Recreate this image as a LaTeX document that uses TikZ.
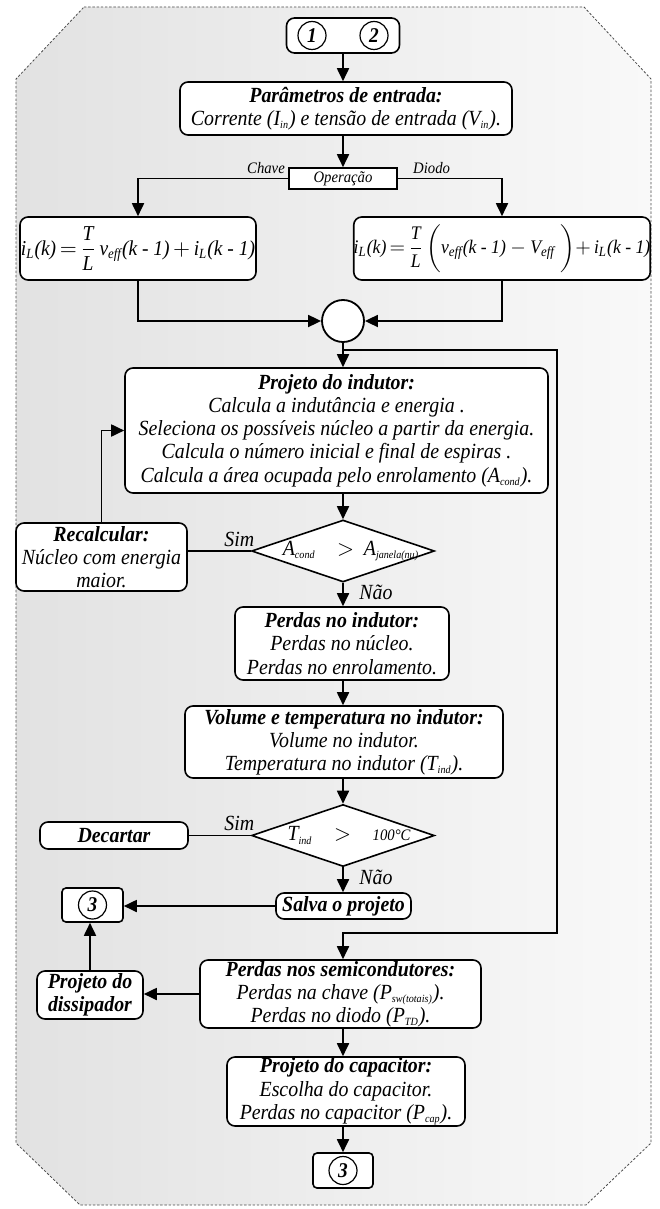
\documentclass[tikz,border=0pt]{standalone}
\usepackage{fontspec}
\setmainfont{Liberation Serif}[FakeStretch=0.92]
\usetikzlibrary{shapes.geometric, arrows.meta, positioning}
\definecolor{bgleft}{HTML}{E2E2E2}
\definecolor{bgright}{HTML}{F9F9F9}
\newcommand{\lsub}[1]{\textsubscript{\fontsize{5.5}{6}\selectfont #1}}
\newcommand{\fsub}[1]{\textsubscript{\fontsize{7}{8}\selectfont #1}}
\tikzset{
  blk/.style={draw, line width=0.8pt, rounded corners=4pt, fill=white, align=center,
    inner sep=0pt, font=\fontsize{10.8}{11.6}\selectfont\itshape},
  bblk/.style={blk, font=\fontsize{10.8}{11.6}\selectfont\bfseries\itshape},
  opbox/.style={draw, line width=0.8pt, fill=white, inner sep=0pt,
    minimum width=54pt, minimum height=10.5pt, font=\fontsize{8}{9}\selectfont\itshape},
  cond/.style={draw, diamond, line width=0.8pt, fill=white, inner sep=0pt,
    minimum width=91.5pt, minimum height=31pt},
  numc/.style={circle, draw, line width=0.6pt, inner sep=0pt, minimum size=14pt,
    font=\fontsize{10.5}{12}\selectfont\bfseries\itshape},
  lbl/.style={inner sep=0pt, font=\fontsize{10.8}{12}\selectfont\itshape},
  sml/.style={inner sep=0pt, font=\fontsize{8}{9}\selectfont\itshape},
  fml/.style={font=\fontsize{10.6}{12}\selectfont\itshape},
  border/.style={line width=0.4pt, black!70, dash pattern=on 1.2pt off 0.9pt},
  line/.style={line width=0.9pt},
  arr/.style={line width=0.9pt, -{Triangle[length=6.5pt,width=6pt]}},
}
\begin{document}
\begin{tikzpicture}[x=0.5pt, y=-0.5pt]
  \useasboundingbox (0,0) rectangle (659,1209);
  % Background frame
  \shadedraw[left color=bgleft, right color=bgright, border]
    (84,7) -- (584,7) -- (651,79) -- (651,1143) -- (586,1205)
    -- (80,1205) -- (16,1143) -- (16,79) -- cycle;

  % Start: connectors 1 and 2
  \node[blk, minimum width=56.5pt, minimum height=17.5pt] (start) at (343,35.5) {};
  \node[numc] (c1) at (312,35.5) {1};
  \node[numc] (c2) at (374,35.5) {2};

  % Input parameters and operation mode
  \node[blk, minimum width=166pt, minimum height=26.5pt] (par) at (346,108.5)
    {{\bfseries Parâmetros de entrada:}\\Corrente (I\lsub{in}) e tensão de entrada (V\lsub{in}).};
  \node[opbox] (op) at (343,178.5) {Operação};
  \node[sml, anchor=south east] (chave) at ([xshift=-1.5pt,yshift=2pt]op.west) {Chave};
  \node[sml, anchor=south west] (diodo) at ([xshift=7.5pt,yshift=2pt]op.east) {Diodo};

  % Current in the inductor
  \node[blk, fml, minimum width=118pt, minimum height=31.5pt] (f1) at (138,248.5)
    {i\fsub{L}(k)\,$=$\,$\displaystyle\frac{\mbox{T}}{\mbox{L}}$\,v\fsub{eff}(k - 1)\,$+$\,i\fsub{L}(k - 1)};
  \node[blk, fml, font=\fontsize{9.6}{12}\selectfont\itshape, minimum width=147pt, minimum height=31.5pt] (f2) at (502,248.5)
    {i\fsub{L}(k)\,$=$\,$\displaystyle\frac{\mbox{T}}{\mbox{L}}\left(\vphantom{\frac{\mbox{T}}{\mbox{L}}}\mbox{v\fsub{eff}(k - 1)}-\mbox{V\fsub{eff}}\;\right)$$+$\,i\fsub{L}(k - 1)};
  \node[circle, draw, line width=0.9pt, fill=white, minimum size=21pt, inner sep=0pt] (jn) at (343,321) {};

  % Inductor design
  \node[blk, minimum width=211.5pt, minimum height=62.5pt] (proj) at (336.5,430.5)
    {{\bfseries Projeto do indutor:}\\Calcula a indutância e energia .\\Seleciona os possíveis núcleo a partir da energia.\\Calcula o número inicial e final de espiras .\\Calcula a área ocupada pelo enrolamento (A\lsub{cond}).};
  \node[cond] (d1) at (343,551) {};
  \node[lbl] (d1txt) at ([xshift=4pt]d1.center) {A\lsub{cond}\quad$>$\;\,A\lsub{janela(nu)}};
  \node[blk, minimum width=85.5pt, minimum height=34pt] (rec) at (101.5,557)
    {{\bfseries Recalcular:}\\Núcleo com energia\\maior.};
  \node[lbl, anchor=south east] (sim1) at ([xshift=2pt,yshift=2pt]d1.west) {Sim};
  \node[lbl, anchor=west] (nao1) at ([xshift=8pt,yshift=-5pt]d1.south) {Não};

  \node[blk, minimum width=107pt, minimum height=36.5pt] (pi) at (342,643.5)
    {{\bfseries Perdas no indutor:}\\Perdas no núcleo.\\Perdas no enrolamento.};
  \node[blk, minimum width=159pt, minimum height=36pt] (vol) at (344,742)
    {{\bfseries Volume e temperatura no indutor:}\\Volume no indutor.\\Temperatura no indutor (T\lsub{ind}).};
  \node[cond] (d2) at (343,835.5) {};
  \node[lbl] (d2txt) at ([xshift=3pt]d2.center) {T\lsub{ind}\quad$>$\quad{\fontsize{8}{9}\selectfont 100°C}};
  \node[bblk, minimum width=74pt, minimum height=13.5pt] (dec) at (114,835.5) {Decartar};
  \node[lbl, anchor=south east] (sim2) at ([xshift=2pt,yshift=2pt]d2.west) {Sim};
  \node[lbl, anchor=west] (nao2) at ([xshift=8pt,yshift=-5pt]d2.south) {Não};
  \node[bblk, minimum width=67.5pt, minimum height=13pt] (salva) at (343.5,906) {Salva o projeto};
  \node[blk, rounded corners=2pt, minimum width=30.5pt, minimum height=17pt] (t3a) at (92.5,905) {};
  \node[numc] (c3a) at (t3a) {3};

  % Semiconductors, heat sink and capacitor
  \node[blk, minimum width=140.5pt, minimum height=34pt] (semi) at (340.5,994)
    {{\bfseries Perdas nos semicondutores:}\\Perdas na chave (P\lsub{sw(totais)}).\\Perdas no diodo (P\lsub{TD}).};
  \node[bblk, minimum width=53pt, minimum height=24pt] (dis) at (90,995)
    {Projeto do\\dissipador};
  \node[blk, minimum width=119pt, minimum height=34.5pt] (cap) at (346,1091.5)
    {{\bfseries Projeto do capacitor:}\\Escolha do capacitor.\\Perdas no capacitor (P\lsub{cap}).};
  \node[blk, rounded corners=2pt, minimum width=30pt, minimum height=17.5pt] (t3b) at (343,1170.5) {};
  \node[numc] (c3b) at (t3b) {3};

  \coordinate (tap) at (343,350);
  \coordinate (rbend) at (557,933);

  % Connectors
  \draw[arr] (start) -- (start |- par.north);
  \draw[arr] (start |- par.south) -- (op);
  \draw[arr] (op.west) -| (f1.north);
  \draw[arr] (op.east) -| (f2.north);
  \draw[arr] (f1.south) |- (jn.west);
  \draw[arr] (f2.south) |- (jn.east);
  \draw[arr] (jn.south) -- (jn.south |- proj.north);
  \draw[arr] (tap) -| (rbend) -| (jn.south |- semi.north);
  \draw[arr] (d1.north |- proj.south) -- (d1.north);
  \draw[line] (d1.west) -- (d1.west -| rec.east);
  \draw[arr] (rec.north) |- (proj.west);
  \draw[arr] (d1.south) -- (d1.south |- pi.north);
  \draw[arr] (d1.south |- pi.south) -- (d1.south |- vol.north);
  \draw[arr] (d1.south |- vol.south) -- (d2.north);
  \draw[line] (d2.west) -- (dec.east);
  \draw[arr] (d2.south) -- (d2.south |- salva.north);
  \draw[arr] (salva.west) -- (salva.west -| t3a.east);
  \draw[arr] (semi.west) -- (semi.west -| dis.east);
  \draw[arr] (dis.north) -- (dis.north |- t3a.south);
  \draw[arr] (d2.south |- semi.south) -- (d2.south |- cap.north);
  \draw[arr] (d2.south |- cap.south) -- (t3b);
\end{tikzpicture}
\end{document}
